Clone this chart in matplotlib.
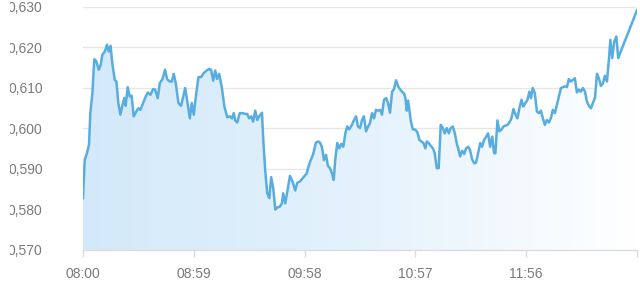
import numpy as np
import matplotlib.pyplot as plt
from matplotlib.colors import LinearSegmentedColormap
from matplotlib.patches import Rectangle

plt.rcParams['font.family'] = ['Liberation Sans', 'DejaVu Sans']

# minutes after 08:00
minutes = [
    0, 0.9, 2.1, 3.2, 3.9, 5.0, 6.0, 7.1, 8.4, 9.4, 10.3, 11.6, 12.8, 13.7, 14.7,
    15.6, 16.9, 17.8, 18.8, 19.9, 21.0, 22.0, 22.7, 23.8, 24.9, 25.9, 27.0, 28.4,
    29.5, 30.6, 32.0, 33.4, 34.5, 35.9, 37.3, 38.4, 39.8, 40.9, 42.3, 43.7, 44.8,
    46.2, 47.3, 48.3, 49.4, 50.8, 52.2, 53.3, 54.4, 55.4, 56.9, 57.9, 59.0, 60.1,
    61.5, 62.9, 64.3, 65.8, 67.2, 68.2, 69.3, 70.4, 71.4, 72.5, 73.9, 75.3, 76.8,
    78.2, 79.3, 80.3, 81.0, 82.1, 83.5, 84.9, 86.4, 87.4, 88.5, 89.6, 90.6, 91.7,
    92.8, 93.8, 95.3, 96.0, 97.0, 98.1, 99.2, 100.2, 101.3, 102.4, 103.4, 104.8,
    105.9, 106.6, 107.7, 108.8, 110.2, 111.6, 113.0, 114.1, 115.5, 116.9, 118.0,
    119.1, 120.1, 121.2, 122.6, 124.0, 125.3,
    126.2, 127.2, 128.3, 129.4, 130.4, 131.5, 132.6, 133.5, 134.3, 135.4, 136.5,
    137.5, 138.6, 139.7, 140.7, 141.8, 143.2, 144.3, 145.4, 146.4, 147.5, 148.6,
    149.6, 150.7, 151.8, 152.8, 153.9, 155.0, 156.0, 157.1, 158.2, 159.2, 160.3,
    161.4, 162.4, 163.5, 164.6, 165.6, 166.7, 167.8, 168.8, 169.9, 171.0, 171.7,
    172.4, 173.1, 173.8, 174.5, 175.6, 177.0, 178.1, 179.1, 180.2, 181.3, 182.3,
    183.1, 184.1, 185.2, 186.3, 187.3, 188.4, 189.4, 190.5, 191.6, 192.6, 193.7,
    194.8, 195.8, 196.9, 198.0, 199.0, 200.1, 200.8, 201.9, 203.0, 204.0, 205.1,
    206.1, 207.2, 208.3, 209.3, 210.4, 211.5, 212.5, 213.6, 214.7, 215.7, 216.8,
    217.9, 218.9, 219.6, 220.7, 221.7, 222.8, 223.9, 224.9, 226.0, 227.1, 228.1,
    229.2, 230.3, 231.3, 232.4, 233.5, 234.5, 235.6, 236.7, 237.7, 238.5, 239.5,
    240.6, 241.7, 242.7, 243.8, 244.9, 245.9, 247.0, 248.1, 249.1, 250.2, 251.3,
    252.3, 253.4, 254.5, 255.5, 256.6, 257.7, 258.7, 259.8, 260.9, 261.9, 263.0,
    264.1, 265.1, 266.2, 267.3, 268.3, 269.4, 270.5, 271.5, 272.6, 273.7, 274.7,
    275.8, 276.9, 277.9, 279.0, 280.1, 280.8, 281.8, 282.9, 284.0, 285.0, 295.0,
]

prices = [
    0.5828, 0.5922, 0.5939, 0.5960, 0.6038, 0.6087, 0.6171, 0.6166, 0.6145, 0.6157,
    0.6182, 0.6190, 0.6207, 0.6190, 0.6204, 0.6161, 0.6120, 0.6116, 0.6063, 0.6034,
    0.6058, 0.6075, 0.6056, 0.6102, 0.6079, 0.6081, 0.6030, 0.6042, 0.6050, 0.6046,
    0.6063, 0.6079, 0.6089, 0.6083, 0.6097, 0.6096, 0.6075, 0.6112, 0.6122, 0.6145,
    0.6122, 0.6116, 0.6116, 0.6135, 0.6112, 0.6063, 0.6056, 0.6077, 0.6100, 0.6071,
    0.6025, 0.6063, 0.6034, 0.6079, 0.6127, 0.6127, 0.6137, 0.6143, 0.6147, 0.6145,
    0.6118, 0.6143, 0.6122, 0.6135, 0.6102, 0.6054, 0.6028, 0.6030, 0.6025, 0.6038,
    0.6020, 0.6015, 0.6038, 0.6038, 0.6036, 0.6036, 0.6025, 0.6030, 0.6017, 0.6044,
    0.6021, 0.6030, 0.6039, 0.5972, 0.5898, 0.5840, 0.5828, 0.5880, 0.5852, 0.5800,
    0.5805, 0.5807, 0.5815, 0.5840, 0.5815, 0.5844, 0.5883, 0.5869, 0.5847, 0.5866,
    0.5869, 0.5877, 0.5883, 0.5889, 0.5906, 0.5921, 0.5937, 0.5965, 0.5968,
    0.5965, 0.5955, 0.5922, 0.5935, 0.5908, 0.5902, 0.5889, 0.5873, 0.5922, 0.5964,
    0.5951, 0.5962, 0.5955, 0.5988, 0.6005, 0.5998, 0.6009, 0.6021, 0.6030, 0.6005,
    0.6001, 0.6021, 0.6030, 0.5993, 0.6005, 0.6013, 0.6038, 0.6025, 0.6046, 0.6044,
    0.6046, 0.6034, 0.6071, 0.6075, 0.6063, 0.6039, 0.6091, 0.6097, 0.6119, 0.6104,
    0.6097, 0.6091, 0.6086, 0.6075, 0.6044, 0.6069, 0.6046, 0.6020, 0.5998, 0.5997,
    0.5990, 0.5972, 0.5968, 0.5964, 0.5951, 0.5968, 0.5964, 0.5957, 0.5951, 0.5939,
    0.5902, 0.5902, 0.6009, 0.6001, 0.5988, 0.6001, 0.5988, 0.6001, 0.6005, 0.5988,
    0.5964, 0.5945, 0.5931, 0.5945, 0.5937, 0.5951, 0.5955, 0.5947, 0.5924, 0.5914,
    0.5916, 0.5939, 0.5964, 0.5955, 0.5972, 0.5980, 0.5988, 0.5955, 0.5980, 0.5939,
    0.5939, 0.6020, 0.5993, 0.5997, 0.6005, 0.6007, 0.6009, 0.6015, 0.6025, 0.6048,
    0.6034, 0.6025, 0.6050, 0.6071, 0.6054, 0.6063, 0.6071, 0.6091, 0.6075, 0.6100,
    0.6087, 0.6042, 0.6038, 0.6044, 0.6025, 0.6009, 0.6021, 0.6015, 0.6025, 0.6046,
    0.6038, 0.6058, 0.6079, 0.6100, 0.6102, 0.6104, 0.6102, 0.6122, 0.6116, 0.6120,
    0.6124, 0.6089, 0.6096, 0.6091, 0.6100, 0.6091, 0.6067, 0.6056, 0.6050, 0.6063,
    0.6075, 0.6135, 0.6124, 0.6105, 0.6112, 0.6130, 0.6116, 0.6174, 0.6219, 0.6174,
    0.6215, 0.6227, 0.6174, 0.6292,
]

tick_minutes = [0, 59, 118, 177, 236, 295]
tick_labels = ['08:00', '08:59', '09:58', '10:57', '11:56', '']
y_ticks = [0.570, 0.580, 0.590, 0.600, 0.610, 0.620, 0.630]
y_labels = ['0,570', '0,580', '0,590', '0,600', '0,610', '0,620', '0,630']

line_color = '#58ade0'
text_color = '#7a7a7a'

fig = plt.figure(figsize=(6.4, 2.9), dpi=100)
ax = fig.add_axes([83 / 640, 1 - 250 / 290, 554 / 640, 243 / 290])

ymin, ymax = 0.570, 0.630
ax.set_xlim(0, 295)
ax.set_ylim(ymin, ymax)

# gradient fill under the line, light blue on the left fading to white
fill = ax.fill_between(minutes, prices, ymin, color='none', lw=0)
grad_cmap = LinearSegmentedColormap.from_list('g', ['#d3e9f9', '#e4f2fc', '#ffffff'])
grad = np.linspace(0, 1, 256).reshape(1, -1)
img = ax.imshow(grad, cmap=grad_cmap, aspect='auto', extent=[0, 295, ymin, ymax],
                origin='lower', zorder=1)
img.set_clip_path(fill.get_paths()[0], transform=ax.transData)

ax.plot(minutes, prices, color=line_color, lw=1.8, zorder=3, solid_joinstyle='round')

ax.set_yticks(y_ticks)
ax.set_yticklabels(y_labels)
ax.set_xticks(tick_minutes)
ax.set_xticklabels(tick_labels)

ax.grid(axis='y', color='#e6e6e6', lw=1)
ax.set_axisbelow(True)
for s in ['top', 'right', 'left']:
    ax.spines[s].set_visible(False)
ax.spines['bottom'].set_color('#dcdcdc')
ax.spines['bottom'].set_linewidth(1)
ax.spines['bottom'].set_zorder(4)

ax.tick_params(axis='y', length=0, pad=29, labelsize=10, labelcolor=text_color)
ax.tick_params(axis='x', length=5, width=1, color='#dcdcdc', pad=7,
               labelsize=10, labelcolor=text_color)

# left edge of the y labels is cut off in the original
fig.patches.append(Rectangle((0, 0), 10 / 640, 1, transform=fig.transFigure,
                             facecolor='white', edgecolor='none', zorder=10))

fig.savefig('out.png', dpi=100)
